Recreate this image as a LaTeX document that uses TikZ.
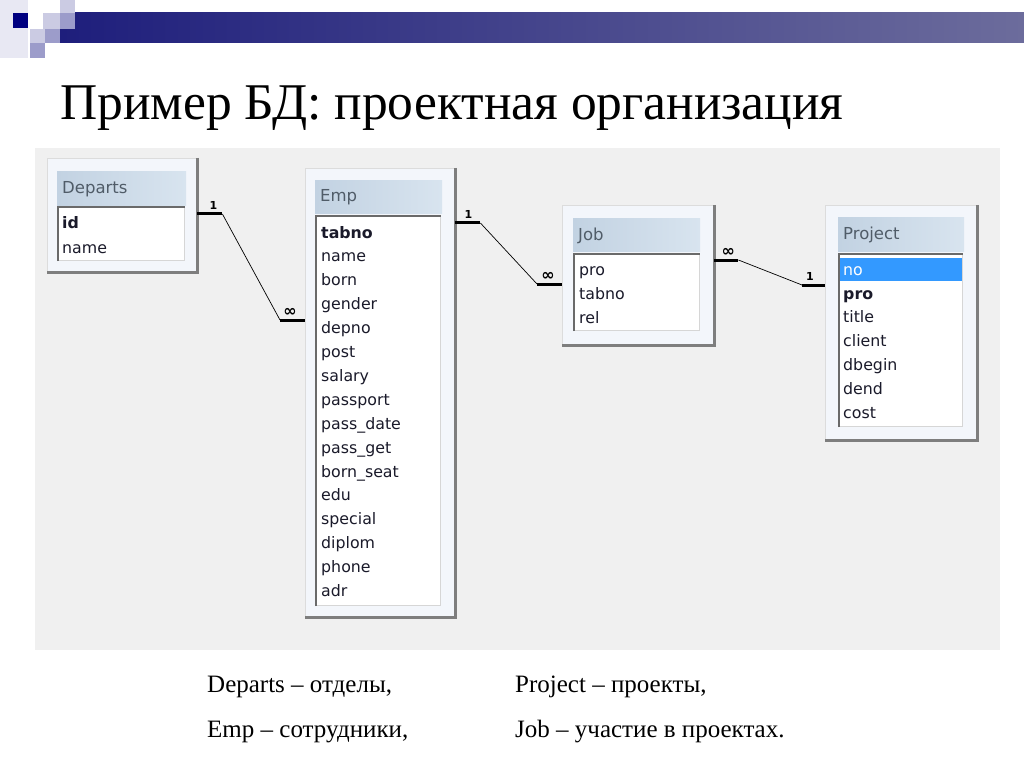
\documentclass[tikz,border=0pt]{standalone}
\usepackage{fontspec}
\setmainfont{Liberation Serif}
\newfontfamily\uifont{DejaVu Sans}
\usetikzlibrary{calc, positioning}
\definecolor{navyDark}{HTML}{000080}
\definecolor{barLeft}{HTML}{1E1E7C}
\definecolor{barRight}{HTML}{6C6C9C}
\definecolor{sqLight}{HTML}{CBCBE3}
\definecolor{sqMid}{HTML}{9C9CCA}
\definecolor{panelGrey}{HTML}{F0F0F0}
\definecolor{winFill}{HTML}{F3F6FB}
\definecolor{winShadow}{HTML}{7E7E7E}
\definecolor{winEdge}{HTML}{DCDCDC}
\definecolor{bandLeft}{HTML}{C2D2E2}
\definecolor{bandRight}{HTML}{D8E4EF}
\definecolor{bandText}{HTML}{505C68}
\definecolor{listDark}{HTML}{6A6A6A}
\definecolor{listLight}{HTML}{D6D6D6}
\definecolor{selBlue}{HTML}{3399FF}
\definecolor{fldText}{HTML}{1A1A2A}
\tikzset{
  win/.style    = {draw=winEdge, fill=winFill, anchor=north west, inner sep=0pt},
  shadow/.style = {draw=winShadow, line width=2.5pt},
  band/.style   = {left color=bandLeft, right color=bandRight, draw=none,
                   anchor=north west, inner sep=0pt},
  bandlbl/.style= {font=\uifont\fontsize{16.5}{18}\selectfont, text=bandText,
                   anchor=west, inner sep=0pt},
  list/.style   = {fill=white, draw=listLight, line width=1pt, anchor=north west,
                   inner sep=0pt},
  inset/.style  = {draw=listDark, line width=2pt},
  fld/.style    = {font=\uifont\fontsize{15.8}{18}\selectfont, text=fldText,
                   anchor=west, inner sep=0pt, text height=11pt, text depth=3pt},
  key/.style    = {fld, font=\uifont\bfseries\fontsize{15.8}{18}\selectfont},
  stub/.style   = {line width=3pt, black},
  rel/.style    = {line width=0.7pt, black},
  card/.style   = {font=\uifont\bfseries\fontsize{11}{12}\selectfont, inner sep=0pt},
  cardinf/.style= {font=\uifont\bfseries\fontsize{16}{16}\selectfont, inner sep=0pt},
  note/.style   = {font=\fontsize{25}{28}\selectfont, anchor=base west, inner sep=0pt}
}
\begin{document}
\begin{tikzpicture}[x=1pt, y=-1pt]
  \useasboundingbox (0,0) rectangle (1024,767);
  \fill[white] (0,0) rectangle (1024,767);
  % header bar and squares
  \shade[left color=barLeft, right color=barRight] (60,13) rectangle (1024,43);
  \fill[sqLight!45] (0,0) rectangle (28,58);
  \fill[navyDark] (13,13) rectangle (28,28);
  \fill[sqLight] (43,13) rectangle (60,29);
  \fill[sqLight] (60,0) rectangle (75,13);
  \fill[sqMid] (60,13) rectangle (75,29);
  \fill[sqLight] (30,29) rectangle (45,43);
  \fill[sqMid] (45,29) rectangle (60,43);
  \fill[sqMid] (30,43) rectangle (45,58);
  \node[font=\fontsize{51.5}{56}\selectfont, anchor=base west, inner sep=0pt] (title)
    at (60,120) {Пример БД: проектная организация};
  % schema panel
  \node[fill=panelGrey, anchor=north west, minimum width=965pt, minimum height=502pt,
    inner sep=0pt] (panel) at (35,148) {};

  % Departs
  \node[win, minimum width=150pt, minimum height=114pt] (dep) at (47,158) {};
  \draw[shadow] (dep.north east) -- (dep.south east) -- (dep.south west);
  \node[band, minimum width=129pt, minimum height=34pt] (depT) at (57,171) {};
  \node[bandlbl] at ([xshift=5pt,yshift=-1pt]depT.west) {Departs};
  \node[list, minimum width=126pt, minimum height=53pt] (depL) at (58,207) {};
  \draw[inset] (depL.south west) -- (depL.north west) -- (depL.north east);
  \node[key] (depId) at (62,225) {id};
  \node[fld] (depName) at (62,249) {name};

  % Emp
  \node[win, minimum width=150pt, minimum height=449pt] (emp) at (305,168) {};
  \draw[shadow] (emp.north east) -- (emp.south east) -- (emp.south west);
  \node[band, minimum width=127pt, minimum height=33pt] (empT) at (315,180) {};
  \node[bandlbl] at ([xshift=5pt,yshift=-1pt]empT.west) {Emp};
  \node[list, minimum width=124pt, minimum height=389pt] (empL) at (316,216) {};
  \draw[inset] (empL.south west) -- (empL.north west) -- (empL.north east);
  \node[key] (empF1) at (321,234) {tabno};
  \foreach \f [count=\i from 2] in {name,born,gender,depno,post,salary,passport,
      pass\_date,pass\_get,born\_seat,edu,special,diplom,phone,adr}
    \node[fld] (empF\i) at (321,{234+23.9*(\i-1)}) {\f};

  % Job
  \node[win, minimum width=152pt, minimum height=140pt] (job) at (562,205) {};
  \draw[shadow] (job.north east) -- (job.south east) -- (job.south west);
  \node[band, minimum width=127pt, minimum height=33pt] (jobT) at (573,218) {};
  \node[bandlbl] at ([xshift=5pt,yshift=-1pt]jobT.west) {Job};
  \node[list, minimum width=125pt, minimum height=76pt] (jobL) at (574,254) {};
  \draw[inset] (jobL.south west) -- (jobL.north west) -- (jobL.north east);
  \foreach \f [count=\i] in {pro,tabno,rel}
    \node[fld] (jobF\i) at (579,{271+24*(\i-1)}) {\f};

  % Project
  \node[win, minimum width=152pt, minimum height=235pt] (prj) at (825,205) {};
  \draw[shadow] (prj.north east) -- (prj.south east) -- (prj.south west);
  \node[band, minimum width=126pt, minimum height=34pt] (prjT) at (838,217) {};
  \node[bandlbl] at ([xshift=5pt,yshift=-1pt]prjT.west) {Project};
  \node[list, minimum width=123pt, minimum height=172pt] (prjL) at (839,254) {};
  \draw[inset] (prjL.south west) -- (prjL.north west) -- (prjL.north east);
  \fill[selBlue] (840,258) rectangle (962,281);
  \node[fld, text=white] (prjF1) at (843,271) {no};
  \node[key] (prjF2) at (843,295) {pro};
  \foreach \f [count=\i from 3] in {title,client,dbegin,dend,cost}
    \node[fld] (prjF\i) at (843,{295+23.8*(\i-2)}) {\f};

  % relationships
  \coordinate (r1a) at (dep.east |- 0,214);
  \coordinate (r1b) at ([xshift=25pt]r1a);
  \coordinate (r1d) at (emp.west |- 0,320);
  \coordinate (r1c) at ([xshift=-25pt]r1d);
  \draw[stub] (r1a) -- (r1b);
  \draw[rel] (r1b) -- (r1c);
  \draw[stub] (r1c) -- (r1d);
  \node[card, above=4pt of r1b, xshift=-9pt] {1};
  \node[cardinf, above=3pt of r1c, xshift=10pt] {∞};

  \coordinate (r2a) at (emp.east |- 0,223);
  \coordinate (r2b) at ([xshift=25pt]r2a);
  \coordinate (r2d) at (job.west |- 0,284);
  \coordinate (r2c) at ([xshift=-25pt]r2d);
  \draw[stub] (r2a) -- (r2b);
  \draw[rel] (r2b) -- (r2c);
  \draw[stub] (r2c) -- (r2d);
  \node[card, above=4pt of r2b, xshift=-12pt] {1};
  \node[cardinf, above=3pt of r2c, xshift=11pt] {∞};

  \coordinate (r3a) at (job.east |- 0,260);
  \coordinate (r3b) at ([xshift=24pt]r3a);
  \coordinate (r3d) at (prj.west |- 0,285);
  \coordinate (r3c) at ([xshift=-23pt]r3d);
  \draw[stub] (r3a) -- (r3b);
  \draw[rel] (r3b) -- (r3c);
  \draw[stub] (r3c) -- (r3d);
  \node[cardinf, above=3pt of r3b, xshift=-10pt] {∞};
  \node[card, above=4pt of r3c, xshift=8pt] {1};

  % legend
  \node[note] (n1) at (207,692) {Departs – отделы,};
  \node[note] (n2) at (207,737) {Emp – сотрудники,};
  \node[note] (n3) at (515,692) {Project – проекты,};
  \node[note] (n4) at (515,737) {Job – участие в проектах.};
\end{tikzpicture}
\end{document}
